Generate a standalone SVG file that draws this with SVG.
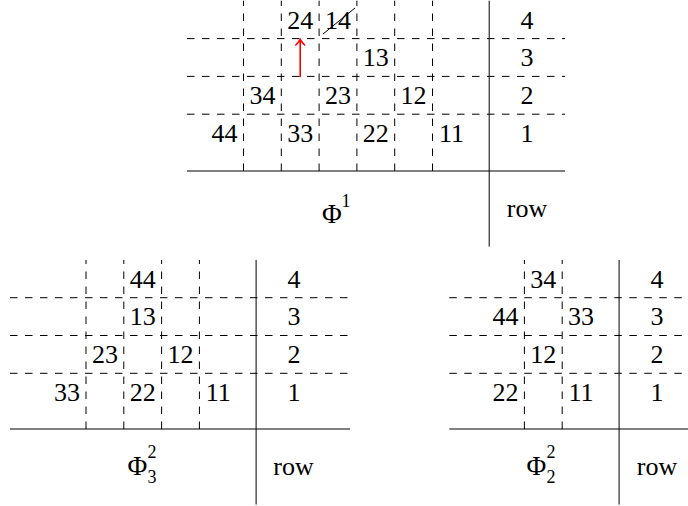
<svg xmlns="http://www.w3.org/2000/svg" width="688" height="506" viewBox="0 0 688 506">
  <style>
    .dash { stroke: #000; stroke-width: 1; stroke-dasharray: 7.5 7.5; fill: none; }
    .solid { stroke: #000; stroke-width: 1; fill: none; }
    .n { font-size: 26px; text-anchor: middle; }
    .phi { font-size: 27px; }
    .sc { font-size: 18px; }
  </style>

  <g font-family="'Liberation Serif', 'DejaVu Serif', serif" fill="#000">
  <!-- Top panel: Phi^1 -->
  <g id="panel-phi1">
    <g id="phi1-grid">
      <path class="dash" d="M187,38.6 H565 M187,76.4 H565 M187,114.2 H565"/>
      <path class="dash" d="M243.5,171 V0.7 M281.3,171 V0.7 M319.1,171 V0.7 M356.9,171 V0.7 M394.7,171 V0.7 M432.5,171 V0.7"/>
      <path class="solid" d="M187,171 H565 M489.2,0.7 V246.6"/>
    </g>
    <g id="phi1-cells">
      <text class="n" x="300.2" y="28.5">24</text>
      <text class="n" x="338" y="28.5">14</text>
      <text class="n" x="375.8" y="66.3">13</text>
      <text class="n" x="262.4" y="104.1">34</text>
      <text class="n" x="338" y="104.1">23</text>
      <text class="n" x="413.6" y="104.1">12</text>
      <text class="n" x="224.6" y="141.9">44</text>
      <text class="n" x="300.2" y="141.9">33</text>
      <text class="n" x="375.8" y="141.9">22</text>
      <text class="n" x="451.4" y="141.9">11</text>
    </g>
    <path id="strike-14" class="solid" d="M323,34 L355,8"/>
    <g id="red-arrow" stroke="#ff0000" stroke-width="1.6" fill="none" stroke-linecap="round">
      <path d="M300.2,76.4 V40"/>
      <path d="M295.8,45 Q298.6,42.2 300.2,39.4 Q301.8,42.2 304.6,45"/>
    </g>
    <g id="phi1-rows">
      <text class="n" x="527" y="28.5">4</text>
      <text class="n" x="527" y="66.3">3</text>
      <text class="n" x="527" y="104.1">2</text>
      <text class="n" x="527" y="141.9">1</text>
      <text class="n" x="527" y="216.7">row</text>
    </g>
    <g id="phi1-label">
      <text class="phi" x="322" y="222.5">Φ</text>
      <text class="sc" x="341.5" y="207">1</text>
    </g>
  </g>

  <!-- Bottom-left panel: Phi_3^2 -->
  <g id="panel-phi32">
    <g id="phi32-grid">
      <path class="dash" d="M10,297.7 H350 M10,335.5 H350 M10,373.3 H350"/>
      <path class="dash" d="M86,429 V259.9 M123.8,429 V259.9 M161.6,429 V259.9 M199.4,429 V259.9"/>
      <path class="solid" d="M10,429 H350 M256.1,259.9 V504.6"/>
    </g>
    <g id="phi32-cells">
      <text class="n" x="142.7" y="287.6">44</text>
      <text class="n" x="142.7" y="325.4">13</text>
      <text class="n" x="104.9" y="363.2">23</text>
      <text class="n" x="180.5" y="363.2">12</text>
      <text class="n" x="67.1" y="401">33</text>
      <text class="n" x="142.7" y="401">22</text>
      <text class="n" x="218.3" y="401">11</text>
    </g>
    <g id="phi32-rows">
      <text class="n" x="294" y="287.6">4</text>
      <text class="n" x="294" y="325.4">3</text>
      <text class="n" x="294" y="363.2">2</text>
      <text class="n" x="294" y="401">1</text>
      <text class="n" x="293.5" y="475">row</text>
    </g>
    <g id="phi32-label">
      <text class="phi" x="127.5" y="475">Φ</text>
      <text class="sc" x="147.5" y="458">2</text>
      <text class="sc" x="147.5" y="483">3</text>
    </g>
  </g>

  <!-- Bottom-right panel: Phi_2^2 -->
  <g id="panel-phi22">
    <g id="phi22-grid">
      <path class="dash" d="M449.3,297.7 H688 M449.3,335.5 H688 M449.3,373.3 H688"/>
      <path class="dash" d="M524.4,429 V259.9 M562.2,429 V259.9"/>
      <path class="solid" d="M449.3,429 H688 M619.1,259.9 V504.6"/>
    </g>
    <g id="phi22-cells">
      <text class="n" x="543.3" y="287.6">34</text>
      <text class="n" x="505.5" y="325.4">44</text>
      <text class="n" x="581.1" y="325.4">33</text>
      <text class="n" x="543.3" y="363.2">12</text>
      <text class="n" x="505.5" y="401">22</text>
      <text class="n" x="581.1" y="401">11</text>
    </g>
    <g id="phi22-rows">
      <text class="n" x="657" y="287.6">4</text>
      <text class="n" x="657" y="325.4">3</text>
      <text class="n" x="657" y="363.2">2</text>
      <text class="n" x="657" y="401">1</text>
      <text class="n" x="657" y="475">row</text>
    </g>
    <g id="phi22-label">
      <text class="phi" x="526.5" y="475">Φ</text>
      <text class="sc" x="546.5" y="458">2</text>
      <text class="sc" x="546.5" y="483">2</text>
    </g>
  </g>
  </g>
</svg>
